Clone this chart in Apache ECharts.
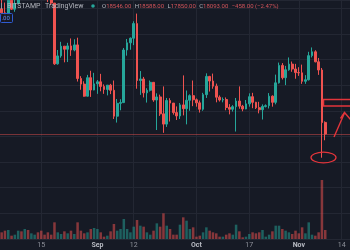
<!DOCTYPE html>
<html>
<head>
<meta charset="utf-8">
<script src="https://cdn.jsdelivr.net/npm/echarts@6/dist/echarts.min.js"></script>
<style>html,body{margin:0;padding:0;background:#161a25;}#c{width:350px;height:250px;}</style>
</head>
<body>
<div id="c"></div>
<script>
const dates = [
'2022-08-03','2022-08-04','2022-08-05','2022-08-06','2022-08-07','2022-08-08','2022-08-09','2022-08-10','2022-08-11','2022-08-12',
'2022-08-13','2022-08-14','2022-08-15','2022-08-16','2022-08-17','2022-08-18','2022-08-19','2022-08-20','2022-08-21','2022-08-22',
'2022-08-23','2022-08-24','2022-08-25','2022-08-26','2022-08-27','2022-08-28','2022-08-29','2022-08-30','2022-08-31',
'2022-09-01','2022-09-02','2022-09-03','2022-09-04','2022-09-05','2022-09-06','2022-09-07','2022-09-08','2022-09-09','2022-09-10',
'2022-09-11','2022-09-12','2022-09-13','2022-09-14','2022-09-15','2022-09-16','2022-09-17','2022-09-18','2022-09-19','2022-09-20',
'2022-09-21','2022-09-22','2022-09-23','2022-09-24','2022-09-25','2022-09-26','2022-09-27','2022-09-28','2022-09-29','2022-09-30',
'2022-10-01','2022-10-02','2022-10-03','2022-10-04','2022-10-05','2022-10-06','2022-10-07','2022-10-08','2022-10-09','2022-10-10',
'2022-10-11','2022-10-12','2022-10-13','2022-10-14','2022-10-15','2022-10-16','2022-10-17','2022-10-18','2022-10-19','2022-10-20',
'2022-10-21','2022-10-22','2022-10-23','2022-10-24','2022-10-25','2022-10-26','2022-10-27','2022-10-28','2022-10-29','2022-10-30','2022-10-31',
'2022-11-01','2022-11-02','2022-11-03','2022-11-04','2022-11-05','2022-11-06','2022-11-07','2022-11-08','2022-11-09','2022-11-10',
'2022-11-11','2022-11-12','2022-11-13','2022-11-14','2022-11-15','2022-11-16'
];

const open = [
22980,22820,22620,23310,22960,23180,23810,23460,23950,23940,24400,24440,24300,24100,23860,23340,23200,20830,21140,21520,
21400,21530,21370,21570,20260,20040,19570,20290,19810,20050,20130,19950,19830,20000,19800,18790,19290,19320,21370,21650,
21830,22400,20180,20240,19700,19800,20110,19420,19540,18880,18480,19400,19300,18930,18800,19230,19080,19410,19590,19430,
19310,19060,19630,20340,20160,19960,19530,19420,19440,19130,19060,19160,19380,19180,19070,19270,19550,19330,19120,19040,
19170,19200,19570,19330,20090,20770,20290,20600,20820,20630,20490,20480,20150,20210,21150,21300,20910,20590,18546
];
const high = [
23640,23220,23450,23340,23370,24230,23930,24200,24900,24450,24880,25210,25050,24230,24450,23600,23200,21370,21690,21520,
21650,21820,21790,21850,20350,20150,20400,20560,20480,20200,20440,20030,20000,20050,20180,19460,19450,21450,21800,21860,
22490,22790,20550,20320,19880,20180,20120,19680,19630,19950,19500,19490,19300,19170,19300,20380,19790,19640,20180,19480,
19400,19700,20460,20360,20450,20060,19600,19520,19520,19260,19220,19500,19950,19230,19420,19680,19700,19350,19350,19250,
19250,19690,19600,20410,20880,20860,20750,21080,20920,20830,20700,20800,20390,21300,21470,21360,21060,20670,18588
];
const low = [
22690,22430,22600,22930,22860,23330,23360,23380,23870,23600,24300,24150,23800,23700,23240,23120,20790,20800,21070,20890,
20900,21140,21320,20140,19820,19550,19560,19540,19800,19660,19760,19660,19600,19650,18680,18540,19020,19300,21150,21380,
21560,19860,19620,19520,19320,19750,19350,18250,18800,18140,18370,18580,18850,18640,18680,18820,18470,19000,19180,19160,
18930,19000,19500,19750,19860,19330,19360,19330,19020,18860,18970,18190,19080,18980,19060,19160,19100,19070,18900,18660,
19130,19090,19160,19250,20060,20220,20000,20560,20520,20250,20360,20050,20050,20180,21080,20890,20400,17170,17850
];
const close = [
22820,22620,23310,22960,23180,23810,23460,23950,23940,24400,24440,24300,24100,23860,23340,23200,20830,21140,21520,21400,
21530,21370,21570,20260,20040,19570,20290,19810,20050,20130,19950,19830,20000,19800,18790,19290,19320,21370,21650,21830,
22400,20180,20240,19700,19800,20110,19420,19540,18880,18480,19400,19300,18930,18800,19230,19080,19410,19590,19430,19310,
19060,19630,20340,20160,19960,19530,19420,19440,19130,19060,19160,19380,19180,19070,19270,19550,19330,19120,19040,19170,
19200,19570,19330,20090,20770,20290,20600,20820,20630,20490,20480,20150,20210,21150,21300,20910,20590,18540,18093
];
const volume = [
2000,2500,2700,1000,1300,2500,2300,3000,2700,1700,1300,2000,2500,1300,2000,1300,5000,2000,1500,2300,
1700,2500,1500,5000,2500,1700,2000,3000,3300,3000,2000,700,1000,2300,4500,2500,3000,6000,3000,2000,
3700,5700,4000,3700,2000,1300,2500,4700,3700,7700,4000,3000,1300,1300,4300,6500,5500,3000,3500,700,
1000,2000,3500,2500,2000,1700,700,700,1300,1700,1300,4300,2300,500,700,1500,2000,1700,2000,2700,
700,1300,2300,4000,4000,3000,2500,2000,1500,2500,1700,3500,1700,5000,1300,1000,2000,17700,2700
];

const tickDates = ['2022-08-15','2022-09-01','2022-09-12','2022-10-01','2022-10-17','2022-11-01','2022-11-14'];
const tickTexts = ['15','Sep','12','Oct','17','Nov','14'];
const tickIsMonth = [false,true,false,true,false,true,false];

const header = {source:'BITSTAMP', brand:'TradingView', o:'18546.00', h:'18588.00', l:'17850.00', c:'18093.00', chg:'\u2212458.00 (\u22122.47%)'};

const UP = '#26a69a', DOWN = '#ef5350';
const candleData = open.map((o,i)=>[o, close[i], low[i], high[i]]);
const volData = volume.map((v,i)=>({value:v, itemStyle:{color: close[i] >= open[i] ? 'rgba(38,166,154,0.5)' : 'rgba(239,83,80,0.52)'}}));
const lastClose = close[close.length-1];
const isTick = (idx, val) => tickDates.indexOf(val) >= 0;
const FONT = 'Roboto, "Liberation Sans", Arial, sans-serif';
const GRID = '#232733';

const chart = echarts.init(document.getElementById('c'), null, {renderer:'canvas'});
chart.setOption({
  animation:false,
  backgroundColor:'#161a25',
  textStyle:{fontFamily:FONT},
  grid:[
    {left:0,right:0,top:0,bottom:11},
    {left:0,right:0,bottom:11,height:120}
  ],
  xAxis:[
    {type:'category',gridIndex:0,data:dates,boundaryGap:true,
     axisLine:{show:false},axisTick:{show:false},axisLabel:{show:false},
     splitLine:{show:true,interval:isTick,alignWithLabel:true,lineStyle:{color:GRID,width:1}}},
    {type:'category',gridIndex:1,data:dates,boundaryGap:true,
     axisLine:{show:false},axisTick:{show:false},splitLine:{show:false},
     axisLabel:{show:true,interval:isTick,margin:3,fontSize:7,color:'#8f929b',fontFamily:FONT,
       formatter:function(v){const k=tickDates.indexOf(v); if(k<0) return ''; return tickIsMonth[k]?'{m|'+tickTexts[k]+'}':'{d|'+tickTexts[k]+'}';},
       rich:{m:{fontSize:7,fontWeight:'bold',color:'#b8bbc3',fontFamily:FONT},d:{fontSize:7,color:'#8f929b',fontFamily:FONT}}}}
  ],
  yAxis:[
    {type:'value',gridIndex:0,position:'right',min:14000,max:23320,interval:1000,scale:true,
     axisLine:{show:false},axisTick:{show:false},axisLabel:{show:false},
     splitLine:{show:true,lineStyle:{color:GRID,width:1}}},
    {type:'value',gridIndex:1,min:0,max:36000,show:false,splitLine:{show:false}}
  ],
  series:[
    {type:'candlestick',xAxisIndex:0,yAxisIndex:0,data:candleData,barWidth:'68%',clip:true,
     itemStyle:{color:UP,color0:DOWN,borderColor:UP,borderColor0:DOWN,borderWidth:1},
     markLine:{silent:true,symbol:['none','none'],label:{show:false},
       lineStyle:{color:'rgba(239,83,80,0.45)',type:'solid',width:1},
       data:[{yAxis:lastClose}]}},
    {type:'bar',xAxisIndex:1,yAxisIndex:1,data:volData,barWidth:'76%'}
  ],
  graphic:[
    {type:'line',zlevel:1,z:100,shape:{x1:1.5,y1:3,x2:1.5,y2:9},style:{stroke:'#9a9da6',lineWidth:1}},
    {type:'text',zlevel:1,z:100,x:7,y:6,style:{text:header.source,fontSize:7,fontFamily:FONT,fill:'#b4b7bf',verticalAlign:'middle'}},
    {type:'text',zlevel:1,z:100,x:45,y:6,style:{text:header.brand,fontSize:7,fontFamily:FONT,fill:'#b4b7bf',verticalAlign:'middle'}},
    {type:'circle',zlevel:1,z:100,shape:{cx:93,cy:6,r:1.8},style:{fill:UP}},
    {type:'text',zlevel:1,z:100,x:102,y:6,style:{
      text:'{g|O}{r|'+header.o+'} {g|H}{r|'+header.h+'} {g|L}{r|'+header.l+'} {g|C}{r|'+header.c+'} {r|'+header.chg+'}',
      verticalAlign:'middle',
      rich:{g:{fontSize:6,fontFamily:FONT,fill:'#b3b6be',color:'#b3b6be'},r:{fontSize:6,fontFamily:FONT,fill:'#d2545a',color:'#d2545a'}}}},
    {type:'rect',zlevel:1,z:100,shape:{x:0.5,y:13.5,width:12,height:9,r:1},style:{fill:'rgba(22,26,37,0.9)',stroke:'#2f5bd1',lineWidth:1}},
    {type:'text',zlevel:1,z:101,x:1.5,y:18.3,style:{text:'.00',fontSize:6,fontFamily:FONT,fill:'#5b83ee',verticalAlign:'middle'}},
    {type:'ellipse',zlevel:1,z:100,shape:{cx:323.5,cy:157.5,rx:12.5,ry:5.3},style:{fill:'none',stroke:'#e3353b',lineWidth:1.3}},
    {type:'rect',zlevel:1,z:100,shape:{x:323.5,y:99.5,width:32,height:6.5},style:{fill:'none',stroke:'#e3353b',lineWidth:1.5}},
    {type:'polyline',zlevel:1,z:100,shape:{points:[[334,137],[344.5,113]]},style:{stroke:'#e3353b',lineWidth:1.4,fill:'none'}},
    {type:'polyline',zlevel:1,z:100,shape:{points:[[340.5,118.5],[344.5,112.5],[351,120]]},style:{stroke:'#e3353b',lineWidth:1.4,fill:'none'}}
  ]
});
</script>
</body>
</html>
